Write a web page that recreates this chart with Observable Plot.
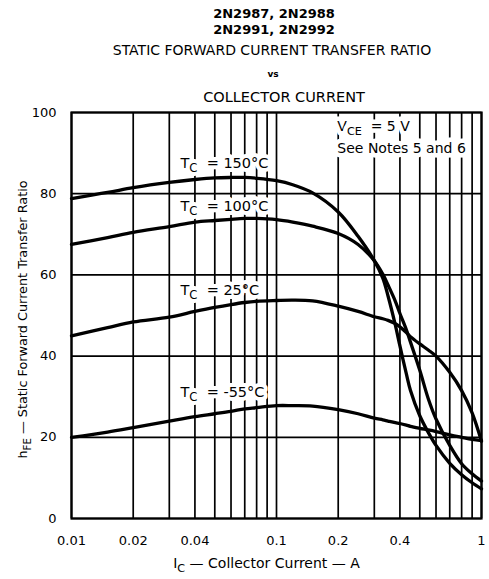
<!DOCTYPE html>
<html><head><meta charset="utf-8">
<script src="https://cdn.jsdelivr.net/npm/d3@7"></script>
<script src="https://cdn.jsdelivr.net/npm/@observablehq/plot@0.6"></script>
<style>
body{margin:0;background:#fff;font-family:"DejaVu Sans",sans-serif;}
#wrap{position:relative;width:489px;height:579px;overflow:hidden;}
#titles{position:relative;height:100px;}
.t{position:absolute;transform:translateX(-50%);white-space:nowrap;line-height:16px;color:#000;}
#chart svg{display:block;overflow:visible;}
</style></head><body>
<div id="wrap">
<div id="titles">
 <div class="t" style="left:274px;top:6px;font-weight:bold;font-size:13px">2N2987, 2N2988</div>
 <div class="t" style="left:274px;top:22px;font-weight:bold;font-size:13px">2N2991, 2N2992</div>
 <div class="t" style="left:272px;top:42px;font-size:14px">STATIC FORWARD CURRENT TRANSFER RATIO</div>
 <div class="t" style="left:273px;top:66px;font-weight:bold;font-size:9px">vs</div>
 <div class="t" style="left:284px;top:89px;font-size:14.5px">COLLECTOR CURRENT</div>
</div>
<div id="chart"></div>
</div>
<script>
// Collector current I_C (A)
const current = [0.01, 0.015, 0.02, 0.03, 0.04, 0.05, 0.06, 0.07, 0.08, 0.1, 0.12, 0.15, 0.2, 0.25, 0.3, 0.33, 0.35, 0.38, 0.4, 0.43, 0.45, 0.5, 0.55, 0.6, 0.7, 0.8, 0.9, 1.0];
// hFE per case temperature
const hfe150 = [78.8, 80.3, 81.5, 82.8, 83.5, 83.9, 84.0, 84.0, 83.8, 83.2, 82.2, 80.2, 75.5, 69.5, 63.5, 59.2, 54.8, 47.6, 42.5, 35.6, 31.6, 25.3, 21.2, 18.0, 13.6, 10.8, 8.8, 7.3];
const hfe100 = [67.5, 69.2, 70.5, 71.9, 73.0, 73.4, 73.7, 73.9, 73.9, 73.6, 73.0, 72.0, 70.2, 67.5, 63.5, 60.2, 57.5, 53.5, 50.5, 46.5, 43.5, 36.5, 29.5, 24.5, 18.0, 13.5, 11.0, 9.2];
const hfe25  = [45.0, 47.0, 48.4, 49.6, 51.0, 52.0, 52.7, 53.2, 53.5, 53.7, 53.8, 53.6, 52.3, 51.0, 49.7, 49.2, 48.8, 48.0, 47.2, 45.8, 44.8, 43.0, 41.5, 40.0, 36.0, 31.5, 26.0, 19.0];
const hfeM55 = [20.0, 21.3, 22.4, 24.0, 25.1, 25.8, 26.4, 27.0, 27.3, 27.8, 27.8, 27.7, 26.8, 25.8, 24.7, 24.3, 24.0, 23.6, 23.4, 23.0, 22.7, 22.2, 21.8, 21.4, 20.6, 20.0, 19.5, 19.2];
const seriesNames = ["150", "100", "25", "-55"];
const seriesValues = [hfe150, hfe100, hfe25, hfeM55];

// Curve labels
const labelText = ["T_{C}  = 150°C", "T_{C}  = 100°C", "T_{C}  = 25°C", "T_{C}  = -55°C"];
const labelI = [0.034, 0.034, 0.034, 0.034];
const labelH = [87.5, 76.8, 56.2, 31.0];

// Notes
const noteText = ["V_{CE}  = 5 V", "See Notes 5 and 6"];
const noteI = [0.198, 0.198];
const noteH = [96.6, 91.2];

// Axes
const xTicks = [0.01, 0.02, 0.04, 0.1, 0.2, 0.4, 0.7, 1];
const yTicks = [0, 20, 40, 60, 80, 100];
const gridX = [0.01,0.02,0.03,0.04,0.05,0.06,0.07,0.08,0.09,0.1,0.2,0.3,0.4,0.5,0.6,0.7,0.8,0.9,1];
const gridY = [0, 20, 40, 60, 80, 100];
const xLabel = "I_{C} — Collector Current — A";
const yLabel = "h_{FE} — Static Forward Current Transfer Ratio";

const rows = seriesNames.flatMap((s, k) => current.map((I, i) => ({series: s, I, h: seriesValues[k][i]})));
const curveLabels = labelText.map((t, i) => ({label: t, I: labelI[i], h: labelH[i]}));
const notes = noteText.map((t, i) => ({label: t, I: noteI[i], h: noteH[i]}));

const chart = Plot.plot({
  width: 489, height: 479,
  marginTop: 12, marginLeft: 71, marginRight: 8, marginBottom: 61,
  style: {fontFamily: "DejaVu Sans", fontSize: "13px", color: "#000", background: "#fff", overflow: "visible"},
  x: {type: "log", domain: [0.01, 1], ticks: xTicks, tickFormat: d => String(d), tickSize: 0, tickPadding: 17, label: null},
  y: {domain: [0, 100], ticks: yTicks, tickSize: 0, tickPadding: 15, label: null},
  marks: [
    Plot.ruleX(gridX, {stroke: "#000", strokeWidth: 1.7}),
    Plot.ruleY(gridY, {stroke: "#000", strokeWidth: 1.7}),
    Plot.frame({stroke: "#000", strokeWidth: 2.2}),
    Plot.line(rows, {x: "I", y: "h", z: "series", stroke: "#000", strokeWidth: 3.3, curve: "catmull-rom"}),
    Plot.text(curveLabels, {x: "I", y: "h", text: "label", textAnchor: "start", fontSize: 14.5, fill: "#000", stroke: "#fff", strokeWidth: 8}),
    Plot.text(notes, {x: "I", y: "h", text: "label", textAnchor: "start", fontSize: 14, fill: "#000", stroke: "#fff", strokeWidth: 9}),
    Plot.text([xLabel], {frameAnchor: "bottom", textAnchor: "middle", dx: -10, dy: 49, fontSize: 14}),
    Plot.text([yLabel], {frameAnchor: "left", textAnchor: "middle", rotate: -90, dx: -49, dy: 4, fontSize: 12.8})
  ]
});
document.getElementById("chart").appendChild(chart);

// Render "_{...}" as subscripts
chart.querySelectorAll('text').forEach(el => {
  const s = el.textContent;
  if (!s.includes("_{")) return;
  while (el.firstChild) el.removeChild(el.firstChild);
  const parts = s.split(/(_\{[^}]*\})/).filter(p => p.length);
  let shifted = false;
  parts.forEach(p => {
    const ts = document.createElementNS("http://www.w3.org/2000/svg", "tspan");
    if (p.startsWith("_{")) {
      ts.textContent = p.slice(2, -1);
      ts.setAttribute("font-size", "0.8em");
      ts.setAttribute("dy", "4");
      shifted = true;
    } else {
      ts.textContent = p;
      if (shifted) { ts.setAttribute("dy", "-4"); shifted = false; }
    }
    el.appendChild(ts);
  });
});
</script>
</body></html>
